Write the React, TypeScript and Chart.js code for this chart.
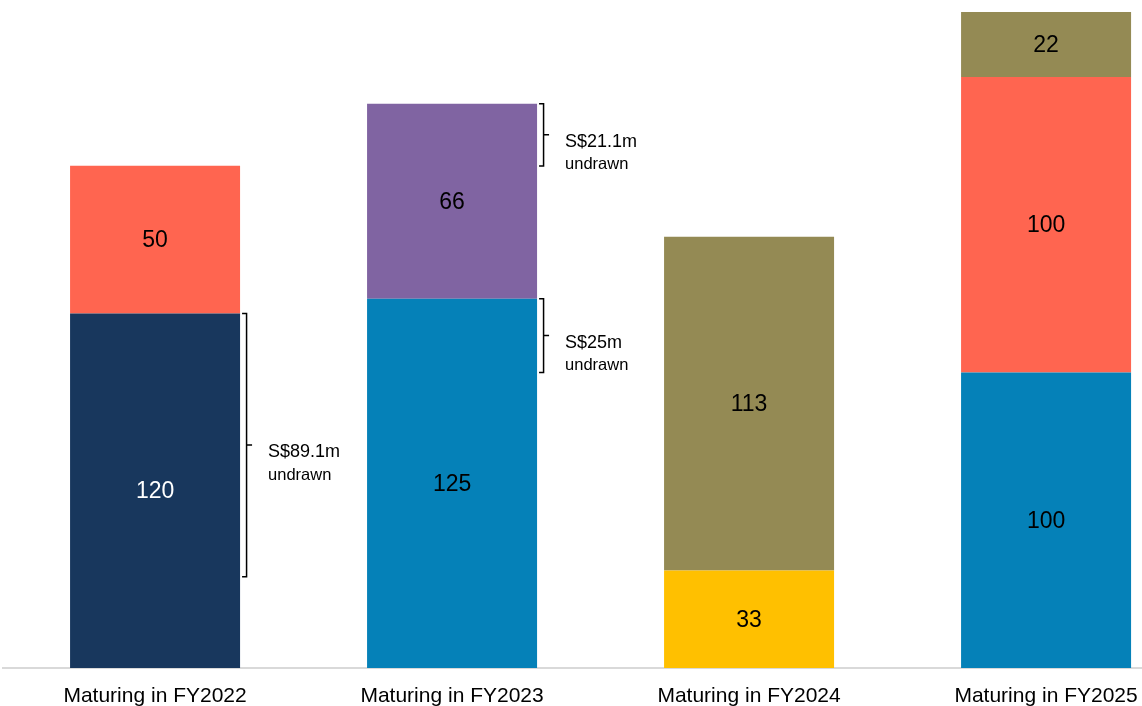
import React, { useEffect, useRef } from "react";
import { Chart, registerables } from "chart.js";

Chart.register(...registerables);

const categories = ["Maturing in FY2022", "Maturing in FY2023", "Maturing in FY2024", "Maturing in FY2025"];
const bottomValues = [120, 125, 33, 100];
const bottomColors = ["#18375D", "#0581B8", "#FFC000", "#0581B8"];
const middleValues = [50, 66, 113, 100];
const middleColors = ["#FF6550", "#8064A2", "#948A54", "#FF6550"];
const topValues = [null, null, null, 22];
const topColors = ["#948A54", "#948A54", "#948A54", "#948A54"];
const labelColorsBottom = ["#FFFFFF", "#000000", "#000000", "#000000"];

const bracketCategory = [0, 1, 1];
const bracketTop = [120, 191, 125];
const bracketAmount = [89.1, 21.1, 25];
const bracketLabel = ["S$89.1m", "S$21.1m", "S$25m"];
const bracketSub = ["undrawn", "undrawn", "undrawn"];

const valueLabelPlugin = {
  id: "valueLabels",
  afterDatasetsDraw(chart: any) {
    const ctx = chart.ctx;
    ctx.save();
    ctx.font = "23px 'Liberation Sans', Arial, sans-serif";
    ctx.textAlign = "center";
    ctx.textBaseline = "middle";
    chart.data.datasets.forEach((ds: any, di: number) => {
      const meta = chart.getDatasetMeta(di);
      meta.data.forEach((el: any, i: number) => {
        const v = ds.data[i]?.y;
        if (v == null) return;
        const { x, y, base } = el.getProps(["x", "y", "base"], true);
        ctx.fillStyle = di === 0 ? labelColorsBottom[i] : "#000000";
        ctx.fillText(String(v), x, (y + base) / 2 + 1);
      });
    });
    ctx.restore();
  },
};

const bracketPlugin = {
  id: "brackets",
  afterDatasetsDraw(chart: any) {
    const ctx = chart.ctx;
    const ys = chart.scales.y;
    const meta = chart.getDatasetMeta(0);
    ctx.save();
    ctx.strokeStyle = "#000000";
    ctx.lineWidth = 1.5;
    bracketCategory.forEach((ci, k) => {
      const el: any = meta.data[ci];
      const { x, width } = el.getProps(["x", "width"], true);
      const right = x + width / 2;
      const yTop = ys.getPixelForValue(bracketTop[k]);
      const yBot = ys.getPixelForValue(bracketTop[k] - bracketAmount[k]);
      const x0 = right + 2;
      const x1 = right + 6.5;
      const x2 = right + 12;
      const mid = (yTop + yBot) / 2;
      ctx.beginPath();
      ctx.moveTo(x0, yTop);
      ctx.lineTo(x1, yTop);
      ctx.lineTo(x1, yBot);
      ctx.lineTo(x0, yBot);
      ctx.moveTo(x1, mid);
      ctx.lineTo(x2, mid);
      ctx.stroke();
      ctx.fillStyle = "#000000";
      ctx.textAlign = "left";
      ctx.textBaseline = "middle";
      ctx.font = "18px 'Liberation Sans', Arial, sans-serif";
      ctx.fillText(bracketLabel[k], right + 28, mid + 7);
      ctx.font = "16.5px 'Liberation Sans', Arial, sans-serif";
      ctx.fillText(bracketSub[k], right + 28, mid + 30);
    });
    ctx.restore();
  },
};

export default function App() {
  const ref = useRef<HTMLCanvasElement>(null);
  useEffect(() => {
    if (!ref.current) return;
    const mk = (vals: (number | null)[]) => vals.map((v, i) => ({ x: i, y: v }));
    const chart = new Chart(ref.current, {
      type: "bar",
      data: {
        datasets: [
          { label: "Bottom", data: mk(bottomValues) as any, backgroundColor: bottomColors },
          { label: "Middle", data: mk(middleValues) as any, backgroundColor: middleColors },
          { label: "Top", data: mk(topValues) as any, backgroundColor: topColors },
        ],
      },
      options: {
        animation: false,
        responsive: true,
        maintainAspectRatio: false,
        layout: { padding: { left: 3, top: 5, right: 0, bottom: 0 } },
        datasets: { bar: { categoryPercentage: 1, barPercentage: 0.5724 } },
        plugins: { legend: { display: false }, tooltip: { enabled: false } },
        scales: {
          x: {
            type: "linear",
            stacked: true,
            offset: false,
            min: -0.512,
            max: 3.323,
            grid: { display: false, drawTicks: false, offset: false },
            border: { display: true, color: "#D9D9D9", width: 2 },
            afterBuildTicks: (scale: any) => {
              scale.ticks = categories.map((_, i) => ({ value: i }));
            },
            afterFit: (scale: any) => {
              scale.height = 38;
              scale.paddingLeft = 0;
              scale.paddingRight = 0;
            },
            ticks: {
              autoSkip: false,
              maxRotation: 0,
              padding: 16,
              color: "#000000",
              font: { family: "'Liberation Sans', Arial, sans-serif", size: 21 },
              callback: (v: any) => categories[v] ?? "",
            },
          },
          y: {
            stacked: true,
            display: false,
            min: 0,
            max: 224.4,
          },
        },
      },
      plugins: [valueLabelPlugin, bracketPlugin],
    });
    return () => chart.destroy();
  }, []);
  return (
    <div style={{ position: "fixed", left: 0, top: 0, width: 1142, height: 706, background: "#fff" }}>
      <canvas ref={ref} />
    </div>
  );
}
